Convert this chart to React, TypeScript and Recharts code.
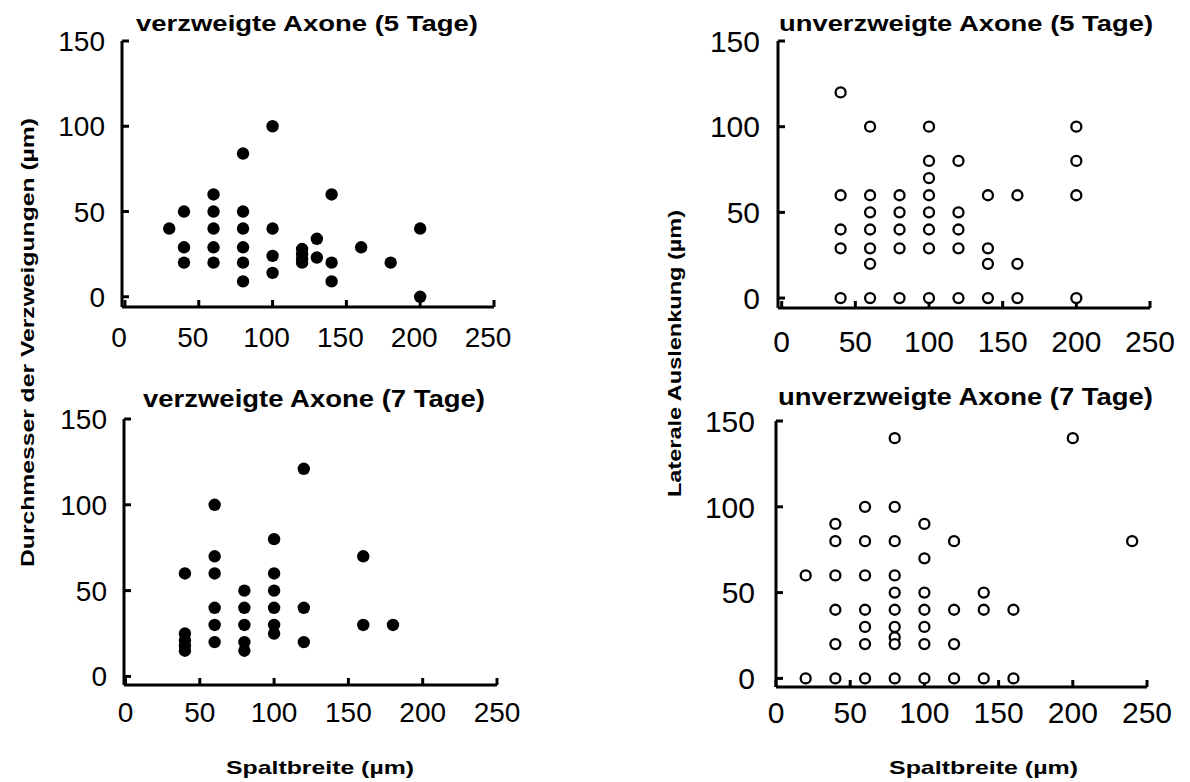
import { ScatterChart, Scatter, XAxis, YAxis } from "recharts";

type Pt = [number, number];

// Spaltbreite (µm) vs. Durchmesser / Auslenkung (µm)
const branched5: Pt[] = [
  [30, 40], [40, 50], [40, 29], [40, 20],
  [60, 60], [60, 50], [60, 40], [60, 29], [60, 20],
  [80, 84], [80, 50], [80, 40], [80, 29], [80, 20], [80, 9],
  [100, 100], [100, 40], [100, 24], [100, 14],
  [120, 28], [120, 25], [120, 22], [120, 20],
  [130, 34], [130, 23],
  [140, 60], [140, 20], [140, 9],
  [160, 29], [180, 20], [200, 40], [200, 0],
];

const unbranched5: Pt[] = [
  [40, 120], [40, 60], [40, 40], [40, 29], [40, 0],
  [60, 100], [60, 60], [60, 50], [60, 40], [60, 29], [60, 20], [60, 0],
  [80, 60], [80, 50], [80, 40], [80, 29], [80, 0],
  [100, 100], [100, 80], [100, 70], [100, 60], [100, 50], [100, 40], [100, 29], [100, 0],
  [120, 80], [120, 50], [120, 40], [120, 29], [120, 0],
  [140, 60], [140, 29], [140, 20], [140, 0],
  [160, 60], [160, 20], [160, 0],
  [200, 100], [200, 80], [200, 60], [200, 0],
];

const branched7: Pt[] = [
  [40, 60], [40, 25], [40, 21], [40, 18], [40, 15],
  [60, 100], [60, 70], [60, 60], [60, 40], [60, 30], [60, 20],
  [80, 50], [80, 40], [80, 30], [80, 20], [80, 15],
  [100, 80], [100, 60], [100, 50], [100, 40], [100, 30], [100, 25],
  [120, 121], [120, 40], [120, 20],
  [160, 70], [160, 30], [180, 30],
];

const unbranched7: Pt[] = [
  [20, 60], [20, 0],
  [40, 90], [40, 80], [40, 60], [40, 40], [40, 20], [40, 0],
  [60, 100], [60, 80], [60, 60], [60, 40], [60, 30], [60, 20], [60, 0],
  [80, 140], [80, 100], [80, 80], [80, 60], [80, 50], [80, 40], [80, 30], [80, 24], [80, 20], [80, 0],
  [100, 90], [100, 70], [100, 50], [100, 40], [100, 30], [100, 20], [100, 0],
  [120, 80], [120, 40], [120, 20], [120, 0],
  [140, 50], [140, 40], [140, 0],
  [160, 40], [160, 0],
  [200, 140], [240, 80],
];

const xTicks = [0, 50, 100, 150, 200, 250];
const yTicks = [0, 50, 100, 150];

const FONT = '"Liberation Sans", Arial, sans-serif';
const Y_W = 60; // y axis width, taken out of the left margin
const X_H = 30; // x axis height, taken out of the bottom margin
const TICK = 7; // tick length, drawn inward (negative tickSize)

const FilledDot = (p: any) => <circle cx={p.cx} cy={p.cy} r={6.2} fill="#000" />;
const OpenDot = (p: any) => (
  <circle cx={p.cx} cy={p.cy} r={5} fill="#fff" stroke="#000" strokeWidth={2.3} />
);

interface PanelProps {
  data: Pt[];
  open?: boolean;
  left: number;
  top: number;
  // plot box inside the 595x391 panel
  plot: { top: number; right: number; bottom: number; left: number };
  xMin: number;
  yMin: number;
  xDx: number;
  xDy: number;
  yGap: number;
  fs: number;
}

function Panel({ data, open, left, top, plot, xMin, yMin, xDx, xDy, yGap, fs }: PanelProps) {
  const rows = data.map(([x, y]) => ({ x, y }));
  const margin = {
    top: plot.top,
    right: plot.right,
    bottom: plot.bottom - X_H,
    left: plot.left - Y_W,
  };

  const xTick = (p: any) => (
    <text x={p.x + xDx} y={p.y + xDy} textAnchor="middle" fontSize={fs} fontFamily={FONT} fill="#000">
      {p.payload.value}
    </text>
  );

  const yTick = (p: any) => (
    <text x={p.x - yGap} y={p.y + fs * 0.36} textAnchor="end" fontSize={fs} fontFamily={FONT} fill="#000">
      {p.payload.value}
    </text>
  );

  const line = { stroke: "#000", strokeWidth: 3 };

  return (
    <div style={{ position: "absolute", left, top }}>
      <ScatterChart width={595} height={391} margin={margin}>
        <XAxis
          type="number"
          dataKey="x"
          domain={[xMin, 250]}
          ticks={xTicks}
          allowDataOverflow
          height={X_H}
          tickSize={-TICK}
          tickMargin={TICK}
          interval={0}
          axisLine={line}
          tickLine={line}
          tick={xTick}
        />
        <YAxis
          type="number"
          dataKey="y"
          domain={[yMin, 150]}
          ticks={yTicks}
          allowDataOverflow
          width={Y_W}
          tickSize={-TICK}
          tickMargin={TICK}
          interval={0}
          axisLine={line}
          tickLine={line}
          tick={yTick}
        />
        <Scatter data={rows} shape={open ? OpenDot : FilledDot} isAnimationActive={false} />
      </ScatterChart>
    </div>
  );
}

export default function App() {
  const label = { fontFamily: FONT, fontWeight: 700, fill: "#000" } as const;
  return (
    <div style={{ position: "absolute", left: 0, top: 0, width: 1190, height: 782, background: "#fff" }}>
      <Panel data={branched5} left={0} top={0}
        plot={{ top: 41, right: 101, bottom: 84, left: 122 }}
        xMin={-2} yMin={-6} xDx={-6} xDy={40} yGap={17} fs={28} />
      <Panel data={unbranched5} open left={595} top={0}
        plot={{ top: 41, right: 40, bottom: 83, left: 183 }}
        xMin={-2.5} yMin={-5.8} xDx={0} xDy={44} yGap={18} fs={30} />
      <Panel data={branched7} left={0} top={391}
        plot={{ top: 28, right: 98, bottom: 97, left: 124 }}
        xMin={-1} yMin={-5} xDx={0} xDy={37} yGap={17} fs={28} />
      <Panel data={unbranched7} open left={595} top={391}
        plot={{ top: 30, right: 43, bottom: 95, left: 181 }}
        xMin={0} yMin={-5} xDx={0} xDy={36} yGap={21} fs={30} />

      <svg width={1190} height={782} style={{ position: "absolute", left: 0, top: 0, pointerEvents: "none" }}>
        <text x={136} y={31} fontSize={22} textLength={342} lengthAdjust="spacingAndGlyphs" {...label}>
          verzweigte Axone (5 Tage)
        </text>
        <text x={779} y={31} fontSize={22} textLength={374} lengthAdjust="spacingAndGlyphs" {...label}>
          unverzweigte Axone (5 Tage)
        </text>
        <text x={143} y={407} fontSize={23} textLength={342} lengthAdjust="spacingAndGlyphs" {...label}>
          verzweigte Axone (7 Tage)
        </text>
        <text x={778} y={405} fontSize={23} textLength={375} lengthAdjust="spacingAndGlyphs" {...label}>
          unverzweigte Axone (7 Tage)
        </text>

        <text x={226} y={774} fontSize={19} textLength={188} lengthAdjust="spacingAndGlyphs" {...label}>
          Spaltbreite (µm)
        </text>
        <text x={889} y={774} fontSize={19} textLength={189} lengthAdjust="spacingAndGlyphs" {...label}>
          Spaltbreite (µm)
        </text>

        <text transform="translate(34, 567) rotate(-90)" fontSize={19} textLength={449} lengthAdjust="spacingAndGlyphs" {...label}>
          Durchmesser der Verzweigungen (µm)
        </text>
        <text transform="translate(681, 497) rotate(-90)" fontSize={19} textLength={287} lengthAdjust="spacingAndGlyphs" {...label}>
          Laterale Auslenkung (µm)
        </text>
      </svg>
    </div>
  );
}
